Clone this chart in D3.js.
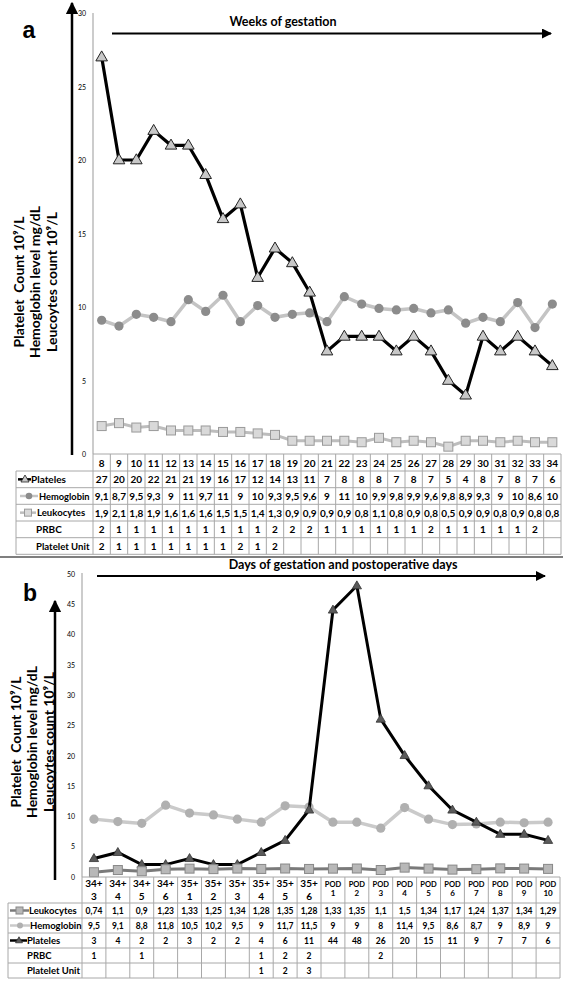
<!DOCTYPE html>
<html><head><meta charset="utf-8">
<script src="https://cdn.jsdelivr.net/npm/d3@7"></script>
<style>body{margin:0;background:#fff}svg{display:block}</style>
</head><body>
<svg id="c" width="563" height="992"></svg>
<script>
// ---------- Panel a data ----------
const weeksA = [8,9,10,11,12,13,14,15,16,17,18,19,20,21,22,23,24,25,26,27,28,29,30,31,32,33,34];
const plateletsA = [27,20,20,22,21,21,19,16,17,12,14,13,11,7,8,8,8,7,8,7,5,4,8,7,8,7,6];
const hemoglobinA = ["9,1","8,7","9,5","9,3","9","11","9,7","11","9","10","9,3","9,5","9,6","9","11","10","9,9","9,8","9,9","9,6","9,8","8,9","9,3","9","10","8,6","10"];
const hemoglobinPlotA = [9.1,8.7,9.5,9.3,9,10.5,9.7,10.8,9,10.1,9.3,9.5,9.6,9,10.7,10.2,9.9,9.8,9.9,9.6,9.8,8.9,9.3,9,10.3,8.6,10.2];
const leukocytesA = ["1,9","2,1","1,8","1,9","1,6","1,6","1,6","1,5","1,5","1,4","1,3","0,9","0,9","0,9","0,9","0,8","1,1","0,8","0,9","0,8","0,5","0,9","0,9","0,8","0,9","0,8","0,8"];
const prbcA = [2,1,1,1,1,1,1,1,1,1,2,2,2,1,1,1,1,1,1,2,1,1,1,1,1,2,""];
const plateletUnitA = [2,1,1,1,1,1,1,1,2,1,2,"","","","","","","","","","","","","","","",""];
const ticksA = [0,5,10,15,20,25,30];

// ---------- Panel b data ----------
const daysTopB = ["34+","34+","34+","34+","35+","35+","35+","35+","35+","35+","POD","POD","POD","POD","POD","POD","POD","POD","POD","POD"];
const daysBotB = ["3","4","5","6","1","2","3","4","5","6","1","2","3","4","5","6","7","8","9","10"];
const leukocytesB = ["0,74","1,1","0,9","1,23","1,33","1,25","1,34","1,28","1,35","1,28","1,33","1,35","1,1","1,5","1,34","1,17","1,24","1,37","1,34","1,29"];
const hemoglobinB = ["9,5","9,1","8,8","11,8","10,5","10,2","9,5","9","11,7","11,5","9","9","8","11,4","9,5","8,6","8,7","9","8,9","9"];
const plateletsB = [3,4,2,2,3,2,2,4,6,11,44,48,26,20,15,11,9,7,7,6];
const prbcB = [1,"",1,"","","","",1,2,2,"","",2,"","","","","","",""];
const plateletUnitB = ["","","","","","","",1,2,3,"","","","","","","","","",""];
const ticksB = [0,5,10,15,20,25,30,35,40,45,50];

const num = s => +String(s).replace(",", ".");
const svg = d3.select("#c");
const FONT = "Lato, 'Open Sans', sans-serif";
const GRID = "#a8a8a8";

svg.append("defs").html(`
<marker id="ah" viewBox="0 0 10 10" refX="9" refY="5" markerWidth="5" markerHeight="5" orient="auto-start-reverse">
<path d="M0,0 L10,5 L0,10 z" fill="#000"/></marker>`);

function arrow(x1,y1,x2,y2,w){
  svg.append("line").attr("x1",x1).attr("y1",y1).attr("x2",x2).attr("y2",y2)
    .attr("stroke","#000").attr("stroke-width",w).attr("marker-end","url(#ah)");
}
function yLabel(cy, xs, size){
  const lines = ["Platelet  Count 10\u2079/L","Hemoglobin level mg/dL","Leucoytes count 10\u2079/L"];
  lines.forEach((l,i)=>{
    svg.append("text").attr("transform",`translate(${xs[i]},${cy}) rotate(-90)`)
      .attr("text-anchor","middle").attr("dominant-baseline","central")
      .attr("font-family",FONT).attr("font-weight","bold").attr("font-size",size)
      .attr("xml:space","preserve").style("white-space","pre").text(l);
  });
}
function tri(g,x,y,s,fill,stroke,sw){
  g.append("path").attr("d",`M${x},${y-s*0.62} L${x+s*0.58},${y+s*0.38} L${x-s*0.58},${y+s*0.38} Z`)
   .attr("fill",fill).attr("stroke",stroke).attr("stroke-width",sw);
}

// ================= PANEL A =================
{
  const x = d3.scaleBand().domain(weeksA).range([93,561]);
  const y = d3.scaleLinear().domain([0,30]).range([454,13]);
  const cx = d => x(d)+x.bandwidth()/2;

  svg.append("text").attr("x",29).attr("y",38).attr("text-anchor","middle")
    .attr("font-family","'Liberation Sans', Arial, sans-serif").attr("font-weight","bold").attr("font-size",23).text("a");
  arrow(72,455,72,3,2.5);
  svg.append("line").attr("x1",93).attr("x2",93).attr("y1",13).attr("y2",454).attr("stroke","#999").attr("stroke-width",1);
  svg.append("g").selectAll("text").data(ticksA).join("text")
    .attr("x",86).attr("y",d=>y(d)).attr("text-anchor","end").attr("dominant-baseline","central")
    .attr("font-family",FONT).attr("font-size",7).text(d=>d);
  arrow(112,33.5,551,33.5,2);
  svg.append("text").attr("x",283).attr("y",21).attr("text-anchor","middle").attr("dominant-baseline","central")
    .attr("font-family",FONT).attr("font-weight","bold").attr("font-size",12.5).text("Weeks of gestation");
  yLabel(282,[18,34,51],14);

  const line = d3.line().x((d,i)=>cx(weeksA[i])).y(d=>y(d));
  const g = svg.append("g");
  g.append("path").attr("d",line(leukocytesA.map(num))).attr("fill","none").attr("stroke","#bdbdbd").attr("stroke-width",3);
  leukocytesA.forEach((v,i)=>g.append("rect").attr("x",cx(weeksA[i])-4.5).attr("y",y(num(v))-4.5).attr("width",9).attr("height",9)
    .attr("fill","#d9d9d9").attr("stroke","#9a9a9a").attr("stroke-width",1));
  g.append("path").attr("d",line(hemoglobinPlotA)).attr("fill","none").attr("stroke","#c4c4c4").attr("stroke-width",3.5);
  hemoglobinPlotA.forEach((v,i)=>g.append("circle").attr("cx",cx(weeksA[i])).attr("cy",y(v)).attr("r",4.6).attr("fill","#8c8c8c"));
  g.append("path").attr("d",line(plateletsA)).attr("fill","none").attr("stroke","#000").attr("stroke-width",3.2);
  plateletsA.forEach((v,i)=>tri(g,cx(weeksA[i]),y(v),10,"#c8c8c8","#222",1));

  const t = svg.append("g");
  const rowY = [454,471,487.7,504.3,521,537.7,554.3];
  const rows = [weeksA, plateletsA, hemoglobinA, leukocytesA, prbcA, plateletUnitA];
  t.append("line").attr("x1",93).attr("x2",561).attr("y1",rowY[0]).attr("y2",rowY[0]).attr("stroke",GRID);
  rowY.slice(1).forEach(ry=>t.append("line").attr("x1",16).attr("x2",561).attr("y1",ry).attr("y2",ry).attr("stroke",GRID));
  weeksA.forEach(w=>t.append("line").attr("x1",x(w)).attr("x2",x(w)).attr("y1",rowY[0]).attr("y2",rowY[6]).attr("stroke",GRID));
  t.append("line").attr("x1",561).attr("x2",561).attr("y1",rowY[0]).attr("y2",rowY[6]).attr("stroke",GRID);
  t.append("line").attr("x1",16).attr("x2",16).attr("y1",rowY[1]).attr("y2",rowY[6]).attr("stroke",GRID);
  rows.forEach((r,ri)=>{
    const my = (rowY[ri]+rowY[ri+1])/2;
    r.forEach((v,i)=>t.append("text").attr("x",cx(weeksA[i])).attr("y",my).attr("text-anchor","middle")
      .attr("dominant-baseline","central").attr("font-family",FONT).attr("font-weight","bold").attr("font-size",10).text(v));
  });
  const lab = (txt,lx,ri,fs)=>t.append("text").attr("x",lx).attr("y",(rowY[ri]+rowY[ri+1])/2).attr("dominant-baseline","central")
      .attr("font-family",FONT).attr("font-weight","bold").attr("font-size",fs||10).text(txt);
  let my = (rowY[1]+rowY[2])/2;
  t.append("line").attr("x1",18).attr("x2",31).attr("y1",my).attr("y2",my).attr("stroke","#000").attr("stroke-width",2.5);
  tri(t,25,my,7,"#c8c8c8","#222",0.8);
  lab("Plateles",31,1);
  my = (rowY[2]+rowY[3])/2;
  t.append("line").attr("x1",20).attr("x2",38).attr("y1",my).attr("y2",my).attr("stroke","#c4c4c4").attr("stroke-width",2.5);
  t.append("circle").attr("cx",29).attr("cy",my).attr("r",3.3).attr("fill","#8c8c8c");
  lab("Hemoglobin",39,2,9.3);
  my = (rowY[3]+rowY[4])/2;
  t.append("line").attr("x1",20).attr("x2",36).attr("y1",my).attr("y2",my).attr("stroke","#bdbdbd").attr("stroke-width",2.5);
  t.append("rect").attr("x",24.5).attr("y",my-3.5).attr("width",7).attr("height",7).attr("fill","#d9d9d9").attr("stroke","#9a9a9a");
  lab("Leukocytes",37,3,9.6);
  lab("PRBC",36,4);
  lab("Platelet Unit",36,5,9.6);
  svg.append("line").attr("x1",0).attr("x2",563).attr("y1",557).attr("y2",557).attr("stroke","#555").attr("stroke-width",1.5);
}

// ================= PANEL B =================
{
  const idx = d3.range(daysBotB.length);
  const x = d3.scaleBand().domain(idx).range([82,560]);
  const y = d3.scaleLinear().domain([0,50]).range([876.7,573.7]);
  const cx = i => x(i)+x.bandwidth()/2;

  svg.append("text").attr("x",30).attr("y",601).attr("text-anchor","middle")
    .attr("font-family","'Liberation Sans', Arial, sans-serif").attr("font-weight","bold").attr("font-size",23).text("b");
  arrow(55,880,55,601,2.5);
  svg.append("line").attr("x1",82).attr("x2",82).attr("y1",573).attr("y2",877).attr("stroke","#999");
  svg.append("g").selectAll("text").data(ticksB).join("text")
    .attr("x",75).attr("y",d=>y(d)).attr("text-anchor","end").attr("dominant-baseline","central")
    .attr("font-family",FONT).attr("font-size",7).text(d=>d);
  arrow(97,576,545,576,2);
  svg.append("text").attr("x",343).attr("y",564).attr("text-anchor","middle").attr("dominant-baseline","central")
    .attr("font-family",FONT).attr("font-weight","bold").attr("font-size",12.5).text("Days of gestation and postoperative days");
  yLabel(742,[15,31,48],14);

  const line = d3.line().x((d,i)=>cx(i)).y(d=>y(d));
  const g = svg.append("g");
  const hb = hemoglobinB.map(num);
  g.append("path").attr("d",line(hb)).attr("fill","none").attr("stroke","#cacaca").attr("stroke-width",3.5);
  hb.forEach((v,i)=>g.append("circle").attr("cx",cx(i)).attr("cy",y(v)).attr("r",4.6).attr("fill","#b0b0b0"));
  g.append("path").attr("d",line(plateletsB)).attr("fill","none").attr("stroke","#000").attr("stroke-width",3);
  plateletsB.forEach((v,i)=>tri(g,cx(i),y(v),8,"#5a5a5a","#333",0.8));
  const lk = leukocytesB.map(num);
  g.append("path").attr("d",line(lk)).attr("fill","none").attr("stroke","#7a7a7a").attr("stroke-width",3);
  lk.forEach((v,i)=>g.append("rect").attr("x",cx(i)-4.5).attr("y",y(v)-4.5).attr("width",9).attr("height",9)
    .attr("fill","#b8b8b8").attr("stroke","#888").attr("stroke-width",1));

  const t = svg.append("g");
  const rowY = [877,903,918,933,948,963,978];
  t.append("line").attr("x1",82).attr("x2",560).attr("y1",rowY[0]).attr("y2",rowY[0]).attr("stroke",GRID);
  rowY.slice(1).forEach(ry=>t.append("line").attr("x1",8).attr("x2",560).attr("y1",ry).attr("y2",ry).attr("stroke",GRID));
  idx.forEach(i=>t.append("line").attr("x1",x(i)).attr("x2",x(i)).attr("y1",rowY[0]).attr("y2",rowY[6]).attr("stroke",GRID));
  t.append("line").attr("x1",560).attr("x2",560).attr("y1",rowY[0]).attr("y2",rowY[6]).attr("stroke",GRID);
  t.append("line").attr("x1",8).attr("x2",8).attr("y1",rowY[1]).attr("y2",rowY[6]).attr("stroke",GRID);
  idx.forEach(i=>{
    const pod = daysTopB[i]==="POD";
    t.append("text").attr("x",cx(i)).attr("y",pod?884:883).attr("text-anchor","middle").attr("dominant-baseline","central")
      .attr("font-family",FONT).attr("font-weight","bold").attr("font-size",pod?7.5:10).text(daysTopB[i]);
    t.append("text").attr("x",cx(i)).attr("y",pod?893:896).attr("text-anchor","middle").attr("dominant-baseline","central")
      .attr("font-family",FONT).attr("font-weight","bold").attr("font-size",pod?8:10).text(daysBotB[i]);
  });
  const rows = [leukocytesB, hemoglobinB, plateletsB, prbcB, plateletUnitB];
  rows.forEach((r,ri)=>{
    const my = (rowY[ri+1]+rowY[ri+2])/2;
    r.forEach((v,i)=>t.append("text").attr("x",cx(i)).attr("y",my).attr("text-anchor","middle")
      .attr("dominant-baseline","central").attr("font-family",FONT).attr("font-weight","bold").attr("font-size",8.5).text(v));
  });
  const lab = (txt,lx,ri)=>t.append("text").attr("x",lx).attr("y",(rowY[ri]+rowY[ri+1])/2).attr("dominant-baseline","central")
      .attr("font-family",FONT).attr("font-weight","bold").attr("font-size",9.5).text(txt);
  let my = (rowY[1]+rowY[2])/2;
  t.append("line").attr("x1",10).attr("x2",29).attr("y1",my).attr("y2",my).attr("stroke","#7a7a7a").attr("stroke-width",2.5);
  t.append("rect").attr("x",16).attr("y",my-3.5).attr("width",7).attr("height",7).attr("fill","#b8b8b8").attr("stroke","#888");
  lab("Leukocytes",29,1);
  my = (rowY[2]+rowY[3])/2;
  t.append("line").attr("x1",10).attr("x2",30).attr("y1",my).attr("y2",my).attr("stroke","#cacaca").attr("stroke-width",2.5);
  t.append("circle").attr("cx",20).attr("cy",my).attr("r",3).attr("fill","#b0b0b0");
  lab("Hemoglobin",30,2);
  my = (rowY[3]+rowY[4])/2;
  t.append("line").attr("x1",10).attr("x2",27).attr("y1",my).attr("y2",my).attr("stroke","#000").attr("stroke-width",2.5);
  tri(t,19,my,6,"#5a5a5a","#333",0.8);
  lab("Plateles",27,3);
  lab("PRBC",27,4);
  lab("Platelet Unit",27,5);
}
</script>
</body></html>
